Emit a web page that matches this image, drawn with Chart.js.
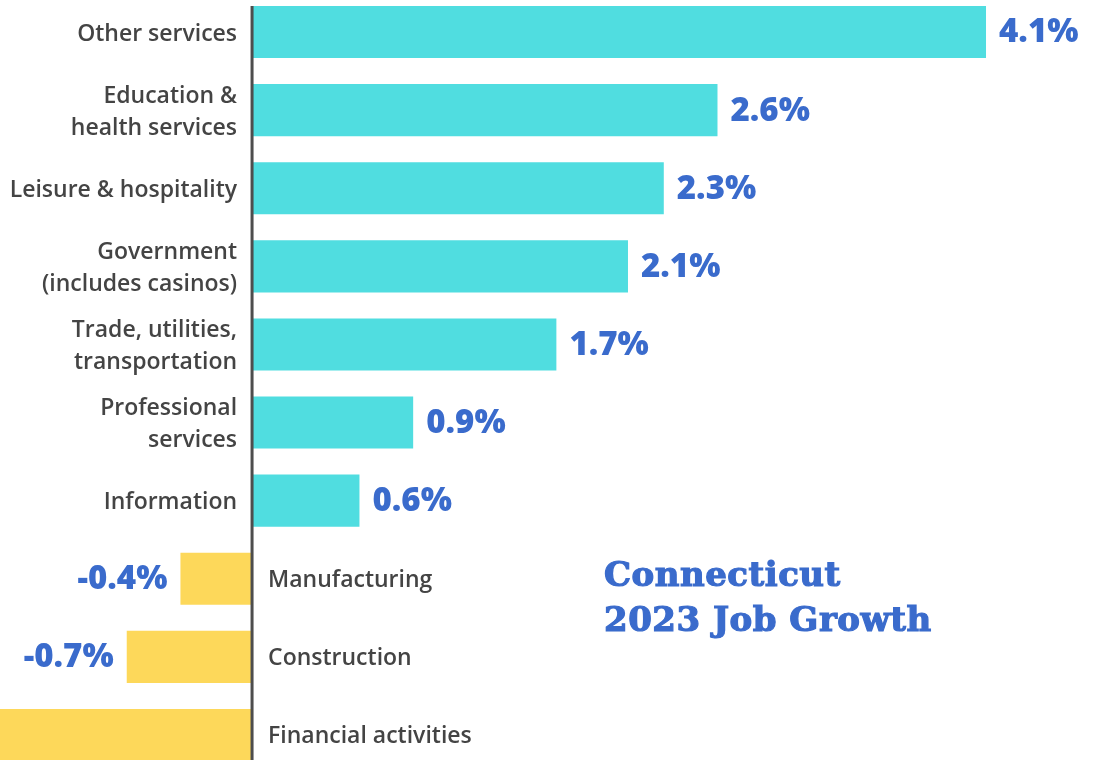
<!DOCTYPE html>
<html>
<head>
<meta charset="utf-8">
<script src="https://cdn.jsdelivr.net/npm/chart.js@4/dist/chart.umd.min.js"></script>
<style>
  html, body { margin:0; padding:0; width:1097px; height:760px; overflow:hidden; background:#fff; }
  #wrap { position:absolute; left:0; top:-7px; width:1097px; height:781px; }
  #title { position:absolute; left:604px; top:552px; font-family:"DejaVu Serif", serif; font-weight:bold;
           font-size:34px; line-height:45px; color:#3a6bcc; white-space:nowrap;
           -webkit-text-stroke:1.2px #3a6bcc; letter-spacing:0.5px; }
</style>
</head>
<body>
<div id="wrap"><canvas id="c"></canvas></div>
<div id="title">Connecticut<br>2023 Job Growth</div>
<script>
const categories = [
  ["Other services"],
  ["Education &", "health services"],
  ["Leisure & hospitality"],
  ["Government", "(includes casinos)"],
  ["Trade, utilities,", "transportation"],
  ["Professional", "services"],
  ["Information"],
  ["Manufacturing"],
  ["Construction"],
  ["Financial activities"]
];
const growth = [4.1, 2.6, 2.3, 2.1, 1.7, 0.9, 0.6, -0.4, -0.7, -1.5];
const valueLabels = ["4.1%", "2.6%", "2.3%", "2.1%", "1.7%", "0.9%", "0.6%", "-0.4%", "-0.7%", "-1.5%"];

const POS = "#50dde0", NEG = "#fdd85a", BLUE = "#3a6bcc", GREY = "#444444";

const labelPlugin = {
  id: "labels",
  afterDatasetsDraw(chart) {
    const ctx = chart.ctx;
    const xs = chart.scales.x;
    const x0 = xs.getPixelForValue(0);
    const meta = chart.getDatasetMeta(0);
    ctx.save();
    const first = meta.data[0];
    ctx.fillStyle = "#4d4d4d";
    ctx.fillRect(x0 - 1.5, first.y - first.height / 2, 3, chart.height);
    meta.data.forEach((bar, i) => {
      const v = growth[i];
      const y = bar.y;
      ctx.font = "600 23px 'Open Sans', sans-serif";
      ctx.fillStyle = GREY;
      ctx.textBaseline = "middle";
      const lines = categories[i];
      const lh = 32;
      const startY = y + 2 - (lines.length - 1) * lh / 2;
      if (v >= 0) {
        ctx.textAlign = "right";
        lines.forEach((t, k) => ctx.fillText(t, x0 - 15, startY + k * lh));
      } else {
        ctx.textAlign = "left";
        lines.forEach((t, k) => ctx.fillText(t, x0 + 16, startY + k * lh));
      }
      ctx.font = "800 33px 'Open Sans', sans-serif";
      ctx.fillStyle = BLUE;
      if (v >= 0) {
        ctx.textAlign = "left";
        ctx.fillText(valueLabels[i], bar.x + 13, y + 1);
      } else {
        ctx.textAlign = "right";
        ctx.fillText(valueLabels[i], bar.x - 13, y + 1);
      }
    });
    ctx.restore();
  }
};

new Chart(document.getElementById("c"), {
  type: "bar",
  data: {
    labels: categories.map(c => c.join(" ")),
    datasets: [{
      data: growth,
      backgroundColor: growth.map(v => v >= 0 ? POS : NEG),
      borderWidth: 0,
      barPercentage: 0.667,
      categoryPercentage: 1.0
    }]
  },
  options: {
    indexAxis: "y",
    responsive: true,
    maintainAspectRatio: false,
    animation: false,
    layout: { padding: 0 },
    plugins: { legend: { display: false }, tooltip: { enabled: false }, title: { display: false } },
    scales: {
      x: { display: false, min: -1.408, max: 4.72 },
      y: { display: false, offset: true }
    }
  },
  plugins: [labelPlugin]
});
</script>
</body>
</html>
